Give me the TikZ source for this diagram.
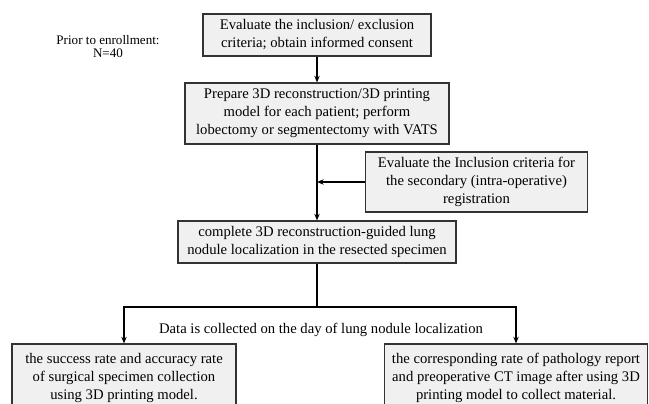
\documentclass[tikz,border=0pt]{standalone}
\usepackage{fontspec}
\setmainfont{Liberation Serif}
\usetikzlibrary{arrows.meta}

\tikzset{
  stepbox/.style={draw=black!80, line width=0.8pt, fill=black!6, align=center, inner sep=2pt},
  flow/.style={line width=1.1pt, -{Stealth[length=5pt,width=4pt]}},
  plain/.style={line width=1.1pt}
}

\begin{document}
\begin{tikzpicture}[x=0.75pt,y=-0.75pt]
\fontsize{11}{13.5}\selectfont

\useasboundingbox (0,0) rectangle (649,403);
\clip (0,0) rectangle (649,403);

\node[align=center, font=\fontsize{9.8}{9.75}\selectfont] (prior) at (108,46.5) {Prior to enrollment:\\N=40};

\node[stepbox, minimum width=171pt, minimum height=31.5pt] (eval) at (317,35)
  {Evaluate the inclusion/ exclusion\\criteria; obtain informed consent};

\node[stepbox, minimum width=198pt, minimum height=45.75pt] (prep) at (317,113.5)
  {Prepare 3D reconstruction/3D printing\\model for each patient; perform\\lobectomy or segmentectomy with VATS};

\node[stepbox, minimum width=167pt, minimum height=45pt] (second) at (476.5,182)
  {Evaluate the Inclusion criteria for\\the secondary (intra-operative)\\registration};

\node[stepbox, minimum width=208.5pt, minimum height=31.5pt] (local) at (317,242)
  {complete 3D reconstruction-guided lung\\nodule localization in the resected specimen};

\node (data) at (321,330) {Data is collected on the day of lung nodule localization};

\node[stepbox, minimum width=168pt, minimum height=51pt] (success) at (124,378)
  {the success rate and accuracy rate\\of surgical specimen collection\\using 3D printing model.};

\node[stepbox, minimum width=197pt, minimum height=51pt] (patho) at (516,378)
  {the corresponding rate of pathology report\\and preoperative CT image after using 3D\\printing model to collect material.};

\coordinate (split) at (317,307);

\draw[flow] (eval) -- (prep);
\draw[flow] (prep) -- (local);
\draw[flow] (second.west) -- (second.west -| prep.south);
\draw[plain] (local) -- (split);
\draw[flow] (split) -| (success.north);
\draw[flow] (split) -| (patho.north);
\end{tikzpicture}
\end{document}
